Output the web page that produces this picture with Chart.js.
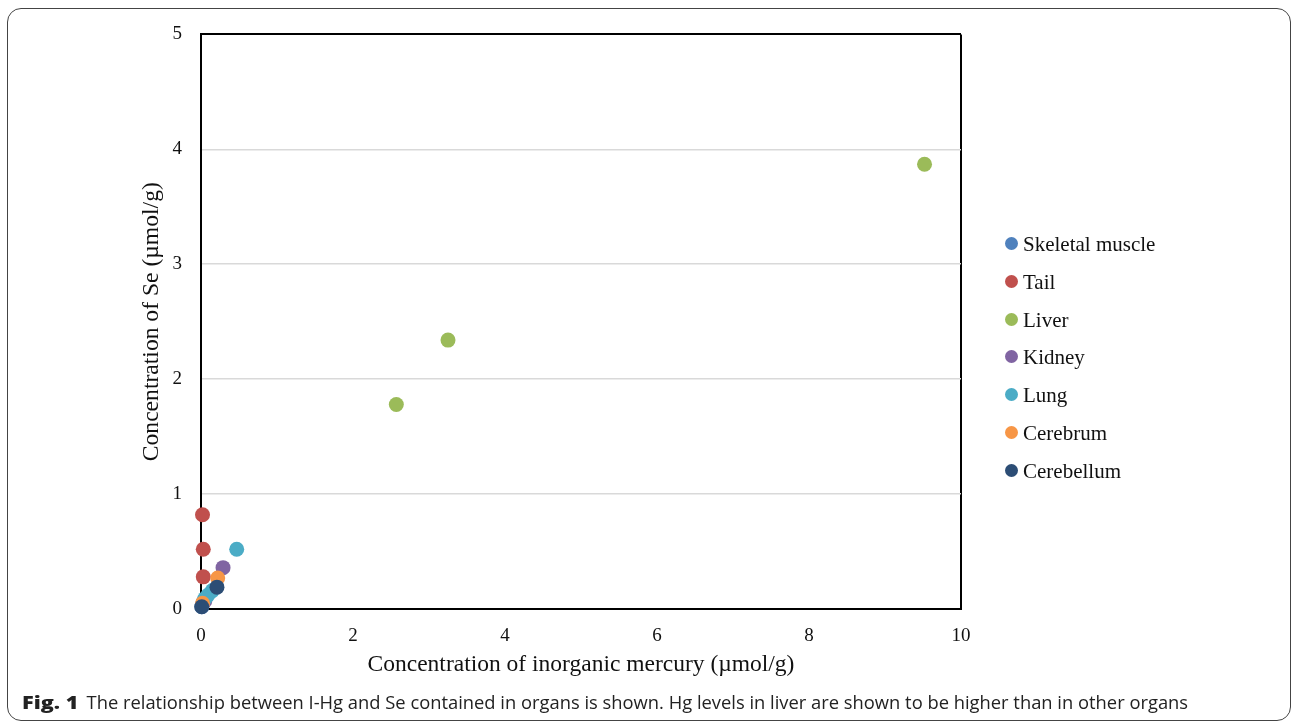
<!DOCTYPE html>
<html>
<head>
<meta charset="utf-8">
<script src="https://cdn.jsdelivr.net/npm/chart.js@4/dist/chart.umd.min.js"></script>
<style>
  html, body { margin: 0; padding: 0; background: #fff; }
  body { width: 1292px; height: 726px; position: relative; overflow: hidden; }
  #frame { position: absolute; left: 7px; top: 8px; width: 1282px; height: 711px;
           border: 1px solid #444; border-radius: 14px; }
  #wrap { position: absolute; left: 8px; top: 4px; width: 1000px; height: 691px; }
  #legend { position: absolute; left: 1003px; top: 0; font-family: "Liberation Serif", serif;
            font-size: 21px; color: #111; }
  .item { position: absolute; left: 0; white-space: nowrap; height: 24px; line-height: 24px; }
  .dot { position: absolute; left: 2px; top: 5px; width: 13px; height: 13px; border-radius: 50%; }
  .lab { position: absolute; left: 20px; top: 0; }
  #caption { position: absolute; left: 22px; top: 689px; font-family: "Open Sans", sans-serif;
             font-size: 18.35px; color: #222; white-space: nowrap; }
  #caption b { display: inline-block; font-weight: 800; transform: scaleX(1.18); transform-origin: left center;
               margin-right: 12px; }
</style>
</head>
<body>
<div id="frame"></div>
<div id="wrap"><canvas id="myChart"></canvas></div>
<div id="legend"></div>
<div id="caption"><b>Fig. 1</b> The relationship between I-Hg and Se contained in organs is shown. Hg levels in liver are shown to be higher than in other organs</div>
<script>
// series (x = inorganic Hg, y = Se), µmol/g
const series_names = ['Skeletal muscle','Tail','Liver','Kidney','Lung','Cerebrum','Cerebellum'];
const series_colors = ['#4F81BD','#C0504D','#9BBB59','#8064A2','#4BACC6','#F79646','#2C4D75'];

const skeletal_hg = [0.01, 0.02, 0.03];
const skeletal_se = [0.02, 0.04, 0.06];
const tail_hg = [0.02, 0.03, 0.03];
const tail_se = [0.82, 0.52, 0.28];
const liver_hg = [2.57, 3.25, 9.52];
const liver_se = [1.78, 2.34, 3.87];
const kidney_hg = [0.29, 0.05];
const kidney_se = [0.36, 0.07];
const lung_hg = [0.47, 0.15, 0.09, 0.05];
const lung_se = [0.52, 0.16, 0.12, 0.09];
const cerebrum_hg = [0.22, 0.02];
const cerebrum_se = [0.27, 0.05];
const cerebellum_hg = [0.21, 0.01];
const cerebellum_se = [0.19, 0.02];

const x_ticks = [0, 2, 4, 6, 8, 10];
const y_ticks = [0, 1, 2, 3, 4, 5];

function to_points(xs, ys){
    let pts = [];
    for (let i = 0; i < xs.length; i++){
        pts.push({x: xs[i], y: ys[i]});
    }
    return pts;
}

const all_hg = [skeletal_hg, tail_hg, liver_hg, kidney_hg, lung_hg, cerebrum_hg, cerebellum_hg];
const all_se = [skeletal_se, tail_se, liver_se, kidney_se, lung_se, cerebrum_se, cerebellum_se];

let datasets_array = [];
for (let i = 0; i < series_names.length; i++){
    datasets_array.push({
        label: series_names[i],
        data: to_points(all_hg[i], all_se[i]),
        backgroundColor: series_colors[i],
        borderColor: series_colors[i],
        pointRadius: 7.5,
        pointBorderWidth: 0,
        pointHoverRadius: 7.5,
        clip: false,
        order: series_names.length - i,   // later series on top, like excel
    });
}

// legend as html
const legend = document.getElementById('legend');
for (let i = 0; i < series_names.length; i++){
    const it = document.createElement('div');
    it.className = 'item';
    it.style.top = (232 + i * 37.8) + 'px';
    it.innerHTML = '<span class="dot" style="background:' + series_colors[i] + '"></span><span class="lab">' + series_names[i] + '</span>';
    legend.appendChild(it);
}

const serif = "'Liberation Serif', 'Times New Roman', serif";
const ctx = document.getElementById('myChart').getContext('2d');
const myChart = new Chart(ctx, {
    type: 'scatter',
    data: { datasets: datasets_array },
    options: {
        responsive: true,
        maintainAspectRatio: false,
        animation: false,
        events: [],
        layout: { padding: { left: 127, right: 47, top: 10, bottom: 12 } },
        plugins: { legend: { display: false }, tooltip: { enabled: false } },
        scales: {
            x: {
                type: 'linear',
                min: 0, max: 10,
                afterBuildTicks: (s) => { s.ticks = x_ticks.map(v => ({value: v})); },
                afterFit: (s) => { s.height = 74; },
                ticks: { color: '#111', padding: 16, font: { family: serif, size: 19 } },
                grid: {
                    drawTicks: false,
                    color: (c) => (c.tick && c.tick.value === 10) ? '#000' : 'rgba(0,0,0,0)',
                    lineWidth: 2,
                },
                border: { color: '#000', width: 2 },
                title: { display: true, text: 'Concentration of inorganic mercury (µmol/g)',
                         color: '#111', padding: { top: 4, bottom: 4 }, font: { family: serif, size: 23.5 } },
            },
            y: {
                min: 0, max: 5,
                afterBuildTicks: (s) => { s.ticks = y_ticks.map(v => ({value: v})); },
                afterFit: (s) => { s.width = 66; },
                ticks: { color: '#111', padding: 19, font: { family: serif, size: 19 } },
                grid: {
                    drawTicks: false,
                    color: (c) => (c.tick && c.tick.value === 5) ? '#000' : '#d9d9d9',
                    lineWidth: (c) => (c.tick && c.tick.value === 5) ? 2 : 1.5,
                },
                border: { color: '#000', width: 2 },
                title: { display: true, text: 'Concentration of Se (µmol/g)',
                         color: '#111', padding: { top: 3, bottom: 4 }, font: { family: serif, size: 23.6 } },
            }
        }
    }
});
</script>
</body>
</html>
